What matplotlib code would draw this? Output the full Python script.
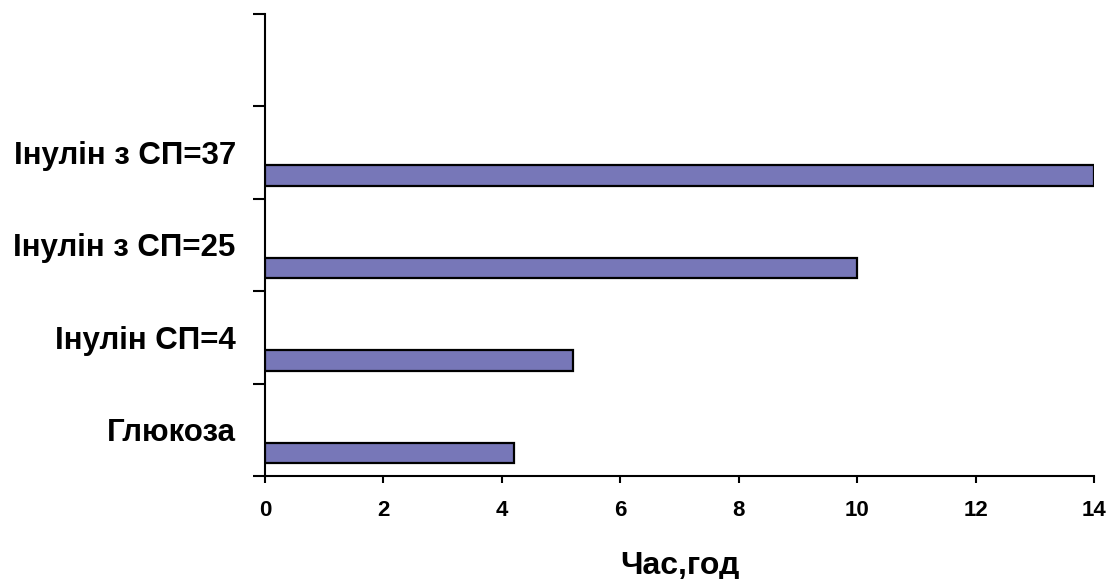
import numpy as np
import matplotlib
matplotlib.use("Agg")
from matplotlib import pyplot as plt

categories = ["Глюкоза", "Інулін СП=4", "Інулін з СП=25", "Інулін з СП=37", ""]
hours = [4.2, 5.2, 10.0, 14.0]
xticks = [0, 2, 4, 6, 8, 10, 12, 14]

plt.rcParams["font.family"] = ["Liberation Sans", "DejaVu Sans"]
plt.rcParams["font.weight"] = "bold"

fig = plt.figure(figsize=(11.07, 5.79), dpi=100)
ax = fig.add_axes([0.2394, 0.178, 0.749, 0.798])

pos = np.arange(len(hours))
ax.barh(pos - 0.25, hours, height=0.22, color="#7777b8",
        edgecolor="black", linewidth=1.6, zorder=3)

ax.set_xlim(0, 14)
ax.set_ylim(-0.5, len(categories) - 0.5)

ax.set_yticks(np.arange(len(categories)))
ax.set_yticklabels(categories, fontsize=22.5, fontweight="bold")
ax.set_yticks(np.arange(len(categories) + 1) - 0.5, minor=True)
ax.tick_params(axis="y", which="major", length=0, pad=21)
ax.tick_params(axis="y", which="minor", length=9, width=1.5, direction="out")

ax.set_xticks(xticks)
ax.set_xticklabels([str(t) for t in xticks], fontsize=16, fontweight="bold")
ax.tick_params(axis="x", length=5, width=1.5, pad=12)

ax.set_xlabel("Час,год", fontsize=23, fontweight="bold", labelpad=22)

for s in ["top", "right"]:
    ax.spines[s].set_visible(False)
for s in ["left", "bottom"]:
    ax.spines[s].set_linewidth(1.5)

fig.savefig("out.png", dpi=100)
